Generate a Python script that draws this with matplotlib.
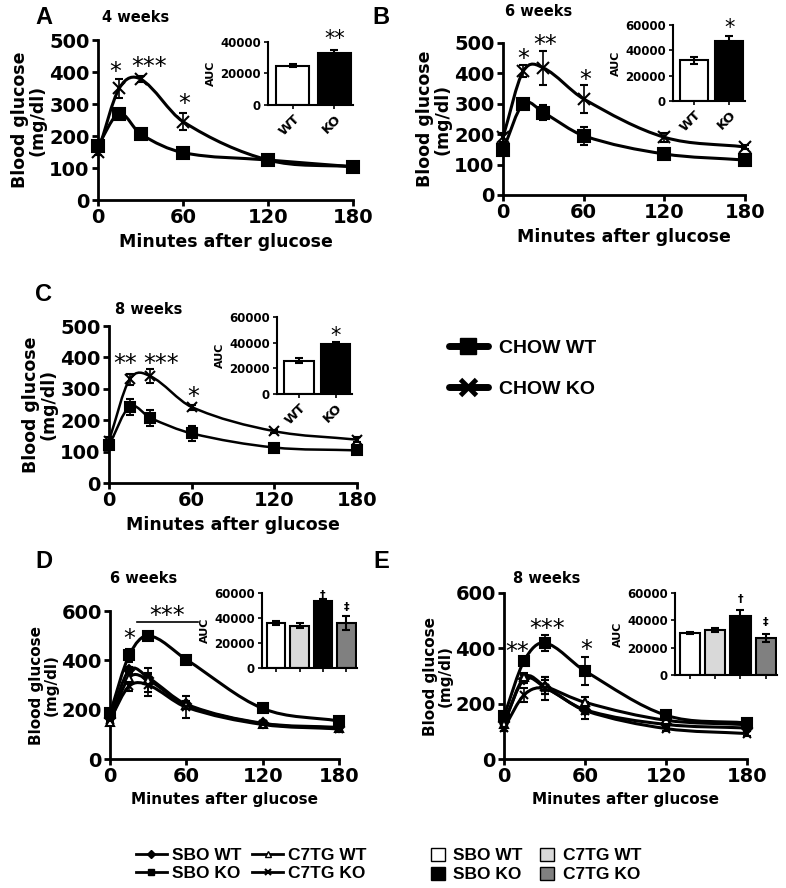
import numpy as np
import matplotlib.pyplot as plt
from matplotlib.path import Path
from matplotlib.patches import PathPatch
from matplotlib.lines import Line2D
from matplotlib.patches import Patch

plt.rcParams['font.family'] = ['DejaVu Sans']
plt.rcParams['font.weight'] = 'bold'

W, H = 786, 888
fig = plt.figure(figsize=(W / 100, H / 100), dpi=100)

times = [0, 15, 30, 60, 120, 180]

# chow panels (A: 4 weeks, B: 6 weeks, C: 8 weeks)
a_wt = [170, 270, 206, 148, 125, 104]
a_wt_err = [8, 10, 8, 6, 5, 5]
a_ko = [151, 349, 378, 245, 125, 104]
a_ko_err = [10, 30, 8, 27, 6, 5]
a_auc = [25000, 33000]
a_auc_err = [1000, 2000]

b_wt = [148, 300, 271, 195, 135, 115]
b_wt_err = [8, 8, 25, 30, 8, 6]
b_ko = [190, 407, 418, 316, 190, 158]
b_ko_err = [15, 20, 57, 45, 15, 8]
b_auc = [32000, 47000]
b_auc_err = [3000, 4000]

c_wt = [120, 243, 207, 158, 113, 104]
c_wt_err = [8, 25, 25, 25, 5, 5]
c_ko = [135, 330, 340, 242, 165, 138]
c_ko_err = [10, 18, 22, 8, 5, 8]
c_auc = [26000, 39000]
c_auc_err = [2000, 1500]

# SBO / C7TG panels (D: 6 weeks, E: 8 weeks)
d_sbo_wt = [165, 360, 330, 222, 145, 128]
d_sbo_ko = [185, 420, 500, 403, 205, 154]
d_c7_wt = [150, 330, 320, 218, 143, 125]
d_c7_ko = [160, 295, 300, 210, 140, 122]
d_sbo_wt_err = [10, 15, 20, 15, 8, 6]
d_sbo_ko_err = [10, 25, 12, 8, 8, 6]
d_c7_wt_err = [10, 20, 50, 12, 8, 6]
d_c7_ko_err = [12, 20, 45, 45, 8, 6]
d_auc = [36000, 34000, 54000, 36000]
d_auc_err = [1500, 1800, 1500, 5500]

e_sbo_wt = [135, 288, 260, 178, 125, 112]
e_sbo_ko = [155, 356, 420, 318, 158, 130]
e_c7_wt = [128, 295, 265, 205, 140, 124]
e_c7_ko = [112, 232, 255, 175, 110, 92]
e_sbo_wt_err = [8, 15, 25, 15, 8, 6]
e_sbo_ko_err = [10, 8, 30, 50, 10, 6]
e_c7_wt_err = [8, 15, 30, 20, 8, 6]
e_c7_ko_err = [10, 25, 40, 30, 8, 8]
e_auc = [30500, 33000, 43500, 27000]
e_auc_err = [600, 1500, 4000, 3000]

group_labels = ['SBO WT', 'C7TG WT', 'SBO KO', 'C7TG KO']
auc_colors = ['white', '#d9d9d9', 'black', '#808080']


def px_axes(x0, y0, x1, y1):
    return fig.add_axes([x0 / W, 1 - y1 / H, (x1 - x0) / W, (y1 - y0) / H])


def smooth(ax, x, y, lw):
    # smoothed line like the spreadsheet one: cubic hermite drawn as bezier
    x = np.asarray(x, float)
    y = np.asarray(y, float)
    n = len(x)
    m = np.empty(n)
    m[0] = (y[1] - y[0]) / (x[1] - x[0])
    m[-1] = (y[-1] - y[-2]) / (x[-1] - x[-2])
    m[1:-1] = (y[2:] - y[:-2]) / (x[2:] - x[:-2])
    verts = [(x[0], y[0])]
    codes = [Path.MOVETO]
    for i in range(n - 1):
        h = x[i + 1] - x[i]
        verts += [(x[i] + h / 3, y[i] + m[i] * h / 3),
                  (x[i + 1] - h / 3, y[i + 1] - m[i + 1] * h / 3),
                  (x[i + 1], y[i + 1])]
        codes += [Path.CURVE4] * 3
    ax.add_patch(PathPatch(Path(verts, codes), fill=False, lw=lw, ec='black',
                           clip_on=False, zorder=2))


def series(ax, y, err, marker, ms, lw, mfc='black'):
    smooth(ax, times, y, lw)
    ax.errorbar(times, y, yerr=err, fmt=marker, color='black', ms=ms,
                mfc=mfc, mec='black', mew=1.5, elinewidth=1.2, capsize=3,
                capthick=1.2, clip_on=False, zorder=3)


def style_main(ax, ymax, ystep, fs_tick, fs_lab):
    ax.set_xlim(0, 180)
    ax.set_ylim(0, ymax)
    ax.set_xticks([0, 60, 120, 180])
    ax.set_yticks(np.arange(0, ymax + 1, ystep))
    for s in ['top', 'right']:
        ax.spines[s].set_visible(False)
    for s in ['left', 'bottom']:
        ax.spines[s].set_linewidth(2)
    ax.tick_params(direction='out', length=4, width=2, labelsize=fs_tick, pad=2)
    ax.set_xlabel('Minutes after glucose', fontsize=fs_lab, fontweight='bold', labelpad=4)
    ax.set_ylabel('Blood glucose\n(mg/dl)', fontsize=fs_lab, fontweight='bold',
                  labelpad=2, linespacing=1.0)


def inset(ax, vals, errs, colors, ymax, step, labels=None):
    n = len(vals)
    xs = np.arange(n)
    ax.bar(xs, vals, width=0.8, color=colors, edgecolor='black', lw=1.5,
           yerr=errs, error_kw=dict(ecolor='black', elinewidth=1.5, capsize=3,
                                    capthick=1.5))
    ax.set_ylim(0, ymax)
    ax.set_yticks(np.arange(0, ymax + 1, step))
    ax.set_xlim(-0.6, n - 0.55)
    ax.set_xticks(xs)
    for s in ['top', 'right']:
        ax.spines[s].set_visible(False)
    for s in ['left', 'bottom']:
        ax.spines[s].set_linewidth(1.5)
    ax.tick_params(direction='out', length=3, width=1.2, labelsize=8.5, pad=2)
    if labels:
        ax.set_xticklabels(labels, rotation=45, ha='right', rotation_mode='anchor',
                           fontsize=9.5)
    else:
        ax.set_xticklabels([])
    ax.set_ylabel('AUC', fontsize=8, fontweight='bold', labelpad=3)


def star(ax, x, y, s, fs=17):
    ax.text(x, y, s, ha='center', va='center', fontsize=fs, fontweight='normal',
            clip_on=False)


# ---- panel A
ax = px_axes(98, 40, 353, 200)
series(ax, a_wt, a_wt_err, 's', 8, 2.2)
series(ax, a_ko, a_ko_err, 'x', 8, 2.2)
style_main(ax, 500, 100, 14, 12.5)
for x, y, s in [(12, 400, '*'), (36, 415, '***'), (61, 300, '*')]:
    star(ax, x, y, s)
ai = px_axes(268, 42, 353, 105)
inset(ai, a_auc, a_auc_err, ['white', 'black'], 40000, 20000, ['WT', 'KO'])
star(ai, 1, 42000, '**', 15)

# ---- panel B
ax = px_axes(503, 43, 745, 195)
series(ax, b_wt, b_wt_err, 's', 8, 2.2)
series(ax, b_ko, b_ko_err, 'x', 8, 2.2)
style_main(ax, 500, 100, 14, 12.5)
for x, y, s in [(15, 448, '*'), (31, 492, '**'), (61, 378, '*')]:
    star(ax, x, y, s)
bi = px_axes(673, 25, 745, 101)
inset(bi, b_auc, b_auc_err, ['white', 'black'], 60000, 20000, ['WT', 'KO'])
star(bi, 1, 58000, '*', 15)

# ---- panel C
ax = px_axes(109, 326, 357, 483)
series(ax, c_wt, c_wt_err, 's', 7, 1.8)
series(ax, c_ko, c_ko_err, 'x', 7, 1.8)
style_main(ax, 500, 100, 14, 12.5)
for x, y, s in [(12, 378, '**'), (38, 380, '***'), (61, 273, '*')]:
    star(ax, x, y, s)
ci = px_axes(277, 317, 352, 394)
inset(ci, c_auc, c_auc_err, ['white', 'black'], 60000, 20000, ['WT', 'KO'])
star(ci, 1, 45000, '*', 15)

# ---- panel D
ax = px_axes(110, 611, 339, 759)
series(ax, d_sbo_wt, d_sbo_wt_err, 'D', 5, 2.2)
series(ax, d_c7_wt, d_c7_wt_err, '^', 6, 2.2, mfc='white')
series(ax, d_c7_ko, d_c7_ko_err, 'x', 6, 2.2)
series(ax, d_sbo_ko, d_sbo_ko_err, 's', 6.5, 2.2)
style_main(ax, 600, 200, 14, 11)
star(ax, 15, 485, '*')
star(ax, 45, 578, '***')
ax.plot([21, 69], [556, 556], color='black', lw=1.2, clip_on=False)
di = px_axes(262, 593, 357, 668)
inset(di, d_auc, d_auc_err, auc_colors, 60000, 20000)
di.text(2, 58500, '†', ha='center', va='center', fontsize=8)
di.text(3, 48500, '‡', ha='center', va='center', fontsize=8)

# ---- panel E
ax = px_axes(504, 593, 747, 759)
series(ax, e_sbo_wt, e_sbo_wt_err, 'D', 5, 2.2)
series(ax, e_c7_wt, e_c7_wt_err, '^', 6, 2.2, mfc='white')
series(ax, e_c7_ko, e_c7_ko_err, 'x', 6, 2.2)
series(ax, e_sbo_ko, e_sbo_ko_err, 's', 6.5, 2.2)
style_main(ax, 600, 200, 14, 11)
for x, y, s in [(10, 385, '**'), (32, 470, '***'), (61, 393, '*')]:
    star(ax, x, y, s)
ei = px_axes(675, 593, 777, 675)
inset(ei, e_auc, e_auc_err, auc_colors, 60000, 20000)
ei.text(2, 55500, '†', ha='center', va='center', fontsize=8)
ei.text(3, 39000, '‡', ha='center', va='center', fontsize=8)

# ---- panel letters and titles
for x, y, s in [(35, 18, 'A'), (372, 18, 'B'), (35, 294, 'C'), (35, 562, 'D'), (373, 562, 'E')]:
    fig.text(x / W, 1 - y / H, s, fontsize=17, fontweight='bold',
             family=['Liberation Sans', 'DejaVu Sans'], va='center', ha='left')
titles = [(102, 18, '4 weeks'), (505, 12, '6 weeks'), (115, 309, '8 weeks'),
          (110, 578, '6 weeks'), (513, 578, '8 weeks')]
for x, y, s in titles:
    fig.text(x / W, 1 - y / H, s, fontsize=10.5, fontweight='bold', va='center', ha='left')

# ---- CHOW legend
chow_handles = [Line2D([], [], color='black', lw=5, marker='s', ms=12,
                       solid_capstyle='round'),
                Line2D([], [], color='black', lw=5, marker='x', ms=11, mew=3.5,
                       solid_capstyle='round')]
fig.legend(chow_handles, ['CHOW WT', 'CHOW KO'], loc='upper left',
           bbox_to_anchor=(431 / W, 1 - 322 / H), frameon=False, handlelength=2.05,
           handletextpad=0.55, labelspacing=1.2,
           prop=dict(family='Liberation Sans', weight='bold', size=14))

# ---- bottom legends (two columns: WT row on top, KO row below)
line_handles = [Line2D([], [], color='black', lw=2, marker='D', ms=4),
                Line2D([], [], color='black', lw=2, marker='s', ms=5),
                Line2D([], [], color='black', lw=2, marker='^', ms=5, mfc='white'),
                Line2D([], [], color='black', lw=2, marker='x', ms=5, mew=1.5)]
leg_order = [0, 2, 1, 3]
fig.legend(line_handles, [group_labels[i] for i in leg_order], loc='upper left',
           bbox_to_anchor=(120 / W, 1 - 832 / H), ncol=2, frameon=False,
           handlelength=1.8, handletextpad=0.3, columnspacing=0.6, labelspacing=0.2,
           prop=dict(family='Liberation Sans', weight='bold', size=12.5))
bar_handles = [Patch(fc=auc_colors[i], ec='black', lw=1) for i in leg_order]
fig.legend(bar_handles, [group_labels[i] for i in leg_order], loc='upper left',
           bbox_to_anchor=(415 / W, 1 - 832 / H), ncol=2, frameon=False,
           handlelength=0.8, handleheight=0.8, handletextpad=0.5, columnspacing=1.0,
           labelspacing=0.2,
           prop=dict(family='Liberation Sans', weight='bold', size=12.5))

fig.savefig('out.png', dpi=100)
